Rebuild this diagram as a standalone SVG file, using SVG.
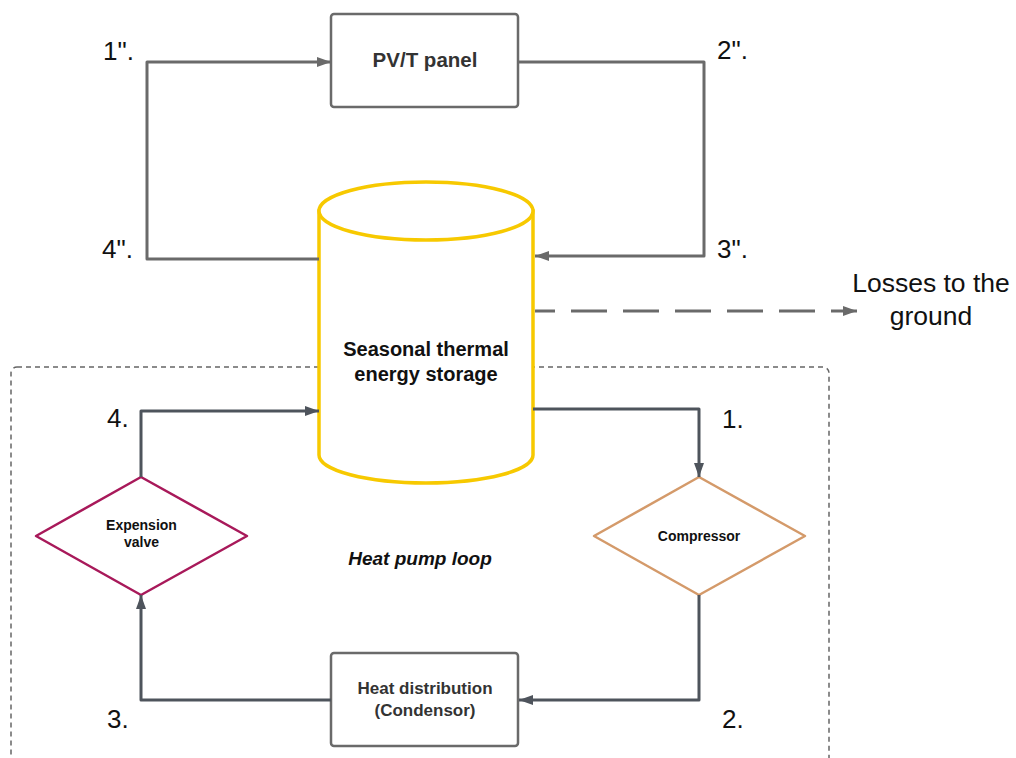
<svg xmlns="http://www.w3.org/2000/svg" width="1016" height="758" viewBox="0 0 1016 758">
<style>
.lbl{font-family:"Liberation Sans",Arial,sans-serif;font-size:26px;fill:#111}
.big{font-family:"Liberation Sans",Arial,sans-serif;font-size:26.5px;fill:#111;text-anchor:middle}
.nt{font-family:"Liberation Sans",Arial,sans-serif;font-weight:bold;fill:#333;text-anchor:middle}
.nb{font-family:"Liberation Sans",Arial,sans-serif;font-weight:bold;fill:#111;text-anchor:middle}
.box{fill:#fff;stroke:#6a6a6a;stroke-width:2.5}
.ctop{fill:none;stroke:#6a6a6a;stroke-width:3;stroke-linejoin:round}
.cbot{fill:none;stroke:#4e545c;stroke-width:3;stroke-linejoin:round}
</style>
<defs>
<marker id="ag" markerUnits="userSpaceOnUse" markerWidth="14" markerHeight="12" refX="14" refY="6" orient="auto"><path d="M0,1 L14,6 L0,11 z" fill="#6a6a6a"/></marker>
<marker id="ad" markerUnits="userSpaceOnUse" markerWidth="14" markerHeight="12" refX="14" refY="6" orient="auto"><path d="M0,1 L14,6 L0,11 z" fill="#4e545c"/></marker>
</defs>
<rect width="1016" height="758" fill="#fff"/>
<g id="loop-boundary">
<rect x="11" y="367" width="818" height="400" rx="6" fill="none" stroke="#666" stroke-width="1.5" stroke-dasharray="5 4"/>
<text class="nb" x="420" y="565" font-size="19" font-style="italic">Heat pump loop</text>
</g>
<g id="storage">
<path d="M319,211 V455 A107,28 0 0 0 533,455 V211 Z" fill="#fff" stroke="#f7c900" stroke-width="3.5"/>
<ellipse cx="426" cy="211" rx="107" ry="29" fill="#fff" stroke="#f7c900" stroke-width="3.5"/>
<text class="nb" x="426" y="356" font-size="20">Seasonal thermal</text>
<text class="nb" x="426" y="381" font-size="20">energy storage</text>
</g>
<g id="pvt">
<rect class="box" x="331" y="14" width="187" height="93" rx="3"/>
<text class="nt" x="425" y="67" font-size="20.5">PV/T panel</text>
</g>
<g id="expansion-valve">
<polygon points="141,477 247,536 141,595 36,536" fill="#fff" stroke="#a8195a" stroke-width="2.5" stroke-linejoin="round"/>
<text class="nb" x="141.5" y="530" font-size="14">Expension</text>
<text class="nb" x="141.5" y="547" font-size="14">valve</text>
</g>
<g id="compressor">
<polygon points="699,477 805,536 699,595 594,536" fill="#fff" stroke="#d49a6a" stroke-width="2.5" stroke-linejoin="round"/>
<text class="nb" x="699" y="541" font-size="14">Compressor</text>
</g>
<g id="condenser">
<rect class="box" x="331" y="653" width="187" height="93" rx="3"/>
<text class="nt" x="425" y="694" font-size="17">Heat distribution</text>
<text class="nt" x="425" y="716" font-size="17">(Condensor)</text>
</g>
<g id="connectors">
<path class="ctop" d="M319,259 L147,259 L147,62 L331,62" marker-end="url(#ag)"/>
<path class="ctop" d="M518,62 L704,62 L704,256 L535,256" marker-end="url(#ag)"/>
<path class="ctop" d="M535,311 L857,311" stroke-dasharray="36 16" stroke-dashoffset="16" marker-end="url(#ag)"/>
<path class="cbot" d="M533,409 L699,409 L699,477" marker-end="url(#ad)"/>
<path class="cbot" d="M699,595 L699,700 L519,700" marker-end="url(#ad)"/>
<path class="cbot" d="M331,700 L141,700 L141,595" marker-end="url(#ad)"/>
<path class="cbot" d="M141,477 L141,411 L319,411" marker-end="url(#ad)"/>
</g>
<g id="labels">
<text class="lbl" x="103" y="60">1".</text>
<text class="lbl" x="717" y="59">2".</text>
<text class="lbl" x="717" y="258">3".</text>
<text class="lbl" x="102" y="258">4".</text>
<text class="lbl" x="722" y="428">1.</text>
<text class="lbl" x="722" y="728">2.</text>
<text class="lbl" x="107" y="728">3.</text>
<text class="lbl" x="107" y="427">4.</text>
<text class="big" x="931" y="292">Losses to the</text>
<text class="big" x="931" y="325">ground</text>
</g>
</svg>
